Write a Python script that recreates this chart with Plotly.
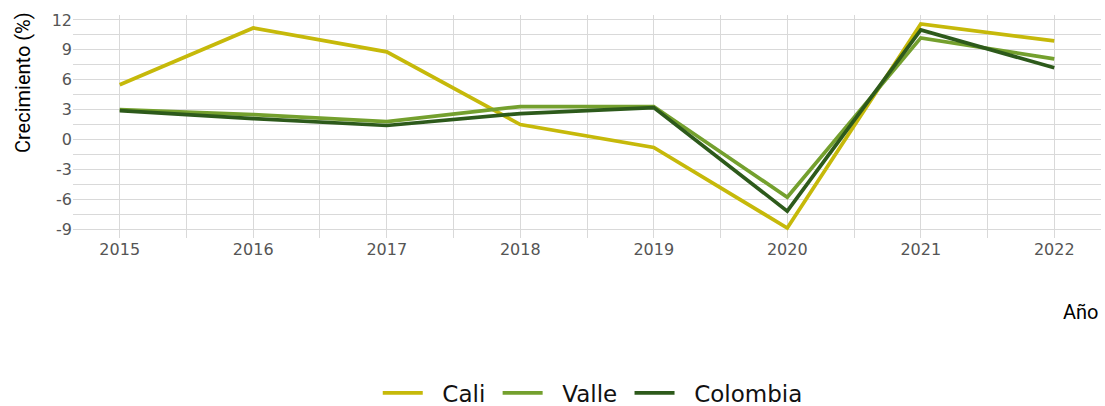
import plotly.graph_objects as go

years = [2015, 2016, 2017, 2018, 2019, 2020, 2021, 2022]
cali = [5.5, 11.2, 8.8, 1.5, -0.8, -8.9, 11.6, 9.9]
valle = [3.0, 2.5, 1.8, 3.3, 3.3, -5.8, 10.2, 8.1]
colombia = [2.9, 2.1, 1.4, 2.6, 3.2, -7.2, 11.0, 7.2]

series_names = ["Cali", "Valle", "Colombia"]
series_colors = ["#C6B90A", "#74A02E", "#2D5A1B"]
y_ticks = [-9, -6, -3, 0, 3, 6, 9, 12]

NB = "\u00a0"
fig = go.Figure()
for name, vals, col in zip(series_names, [cali, valle, colombia], series_colors):
    fig.add_trace(go.Scatter(x=years, y=vals, mode="lines", name=NB * 2 + name + NB,
                             line=dict(color=col, width=3.7)))

grid = "#d9d9d9"
tickfont = dict(family="DejaVu Sans", size=16, color="#555555")
titlefont = dict(family="Roboto", size=20, color="black")
fig.update_layout(
    width=1105, height=406,
    margin=dict(l=73, r=4, t=15, b=168),
    paper_bgcolor="white", plot_bgcolor="white",
    showlegend=True,
    legend=dict(orientation="h", x=0.509, xanchor="center",
                yref="container", y=0.032, yanchor="middle",
                font=dict(family="DejaVu Sans", size=23, color="#111111"),
                itemwidth=40, tracegroupgap=0),
    xaxis=dict(range=[2014.65, 2022.35], tickvals=years, ticktext=[str(y) for y in years],
               showgrid=True, gridcolor=grid, gridwidth=1.2, zeroline=False, showline=False,
               tickfont=tickfont, ticks="", automargin=False,
               minor=dict(tickvals=[y + 0.5 for y in years[:-1]], showgrid=True,
                          gridcolor=grid, gridwidth=1.2)),
    yaxis=dict(range=[-9.9, 12.5], tickvals=y_ticks, ticktext=[str(v) for v in y_ticks],
               showgrid=True, gridcolor=grid, gridwidth=1.2, zeroline=False, showline=False,
               tickfont=tickfont, ticks="", automargin=False,
               minor=dict(tickvals=[v + 1.5 for v in y_ticks[:-1]], showgrid=True,
                          gridcolor=grid, gridwidth=1.2)),
    annotations=[
        dict(text="Año", xref="paper", yref="paper", x=1, y=-0.33,
             xanchor="right", yanchor="middle", showarrow=False, font=titlefont),
        dict(text="Crecimiento (%)", xref="paper", yref="paper", x=-0.0486, y=0.695,
             xanchor="center", yanchor="middle", textangle=-90, showarrow=False,
             font=titlefont),
    ],
)
fig.write_html("out.html", config={"displayModeBar": False},
               post_script="document.body.style.margin='0';")
